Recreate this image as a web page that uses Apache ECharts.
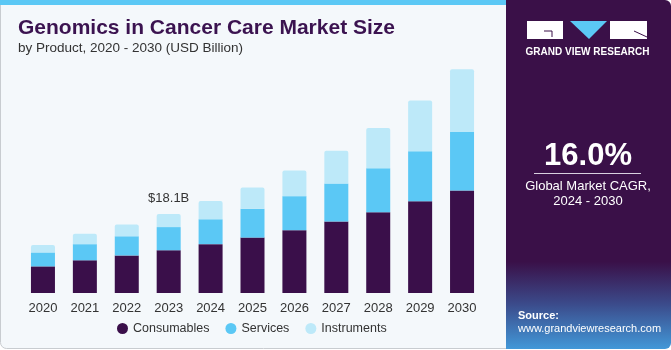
<!DOCTYPE html>
<html>
<head>
<meta charset="utf-8">
<script src="https://cdn.jsdelivr.net/npm/echarts@6/dist/echarts.min.js"></script>
<style>
  html, body { margin: 0; padding: 0; background: #ffffff; }
  #main { width: 671px; height: 350px; }
</style>
</head>
<body>
<div id="main"></div>
<script>
var years = ['2020', '2021', '2022', '2023', '2024', '2025', '2026', '2027', '2028', '2029', '2030'];
var consumables = [6.1, 7.5, 8.6, 9.8, 11.2, 12.7, 14.4, 16.4, 18.5, 21.0, 23.5];
var services = [3.2, 3.7, 4.4, 5.3, 5.7, 6.6, 7.8, 8.7, 10.1, 11.5, 13.4];
var instruments = [1.7, 2.4, 2.7, 3.0, 4.2, 4.9, 5.9, 7.5, 9.2, 11.6, 14.4];
var seriesNames = ['Consumables', 'Services', 'Instruments'];
var highlightIndex = 3;
var highlightText = '$18.1B';

var myChart = echarts.init(document.getElementById('main'));

var font = '"Liberation Sans", Arial, sans-serif';

var instrumentData = instruments.map(function (v, i) {
    if (i === highlightIndex) {
        return {
            value: v,
            label: {
                show: true, position: 'top', distance: 9,
                formatter: highlightText, fontSize: 13, color: '#333333', fontFamily: font
            }
        };
    }
    return v;
});

var option = {
    backgroundColor: '#ffffff',
    animation: false,
    textStyle: { fontFamily: font },
    grid: { left: 22, right: 188, top: 53, bottom: 57 },
    legend: {
        data: seriesNames,
        left: 112,
        top: 317,
        icon: 'circle',
        itemWidth: 11,
        itemHeight: 11,
        itemGap: 16,
        textStyle: { fontSize: 12.5, color: '#333333', fontFamily: font }
    },
    xAxis: {
        type: 'category',
        data: years,
        axisLine: { show: false },
        axisTick: { show: false },
        axisLabel: { fontSize: 13, color: '#333333', margin: 9, fontFamily: font }
    },
    yAxis: {
        type: 'value',
        min: 0,
        max: 55,
        show: false,
        splitLine: { show: false }
    },
    graphic: [
        // left panel
        { type: 'rect', z: -10, shape: { x: 0.5, y: 0.5, width: 520, height: 348, r: [0, 0, 0, 6] },
          style: { fill: '#f4f8fb', stroke: '#c8ccd0', lineWidth: 1 } },
        { type: 'rect', z: -9, shape: { x: 0, y: 0, width: 506, height: 5 }, style: { fill: '#5bc8f5' } },
        // right panel
        { type: 'rect', z: -8, shape: { x: 506, y: 0, width: 165, height: 349, r: [0, 6, 6, 0] },
          style: { fill: new echarts.graphic.LinearGradient(0, 0, 0, 1, [
              { offset: 0, color: '#3a1048' },
              { offset: 0.75, color: '#3a1048' },
              { offset: 0.87, color: '#3b4a8a' },
              { offset: 1, color: '#4298d8' }
          ]) } },
        // title
        { type: 'text', left: 18, top: 18,
          style: { text: 'Genomics in Cancer Care Market Size', fill: '#3b1350',
                   font: 'bold 21px ' + font } },
        { type: 'text', left: 18, top: 41,
          style: { text: 'by Product, 2020 - 2030 (USD Billion)', fill: '#333333',
                   font: '13.5px ' + font } },
        // logo
        { type: 'rect', shape: { x: 527, y: 21, width: 36, height: 18 }, style: { fill: '#ffffff' } },
        { type: 'polyline', shape: { points: [[544, 31], [552, 31], [552, 37]] },
          style: { stroke: '#3a1048', lineWidth: 1, fill: null } },
        { type: 'polygon', shape: { points: [[570, 21], [607, 21], [589, 39]] }, style: { fill: '#5bc8f5' } },
        { type: 'rect', shape: { x: 610, y: 21, width: 37, height: 18 }, style: { fill: '#ffffff' } },
        { type: 'line', shape: { x1: 634, y1: 31, x2: 647, y2: 37 }, style: { stroke: '#3a1048', lineWidth: 1 } },
        { type: 'text', x: 587.5, y: 52,
          style: { text: 'GRAND VIEW RESEARCH', fill: '#ffffff', font: 'bold 10px ' + font,
                   align: 'center', verticalAlign: 'middle' } },
        // CAGR
        { type: 'text', x: 588, y: 156,
          style: { text: '16.0%', fill: '#ffffff', font: 'bold 31px ' + font,
                   align: 'center', verticalAlign: 'middle' } },
        { type: 'line', shape: { x1: 534, y1: 173.5, x2: 641, y2: 173.5 },
          style: { stroke: '#d8d0e0', lineWidth: 1 } },
        { type: 'text', x: 588, y: 186,
          style: { text: 'Global Market CAGR,', fill: '#ffffff', font: '13px ' + font,
                   align: 'center', verticalAlign: 'middle' } },
        { type: 'text', x: 588, y: 201,
          style: { text: '2024 - 2030', fill: '#ffffff', font: '13px ' + font,
                   align: 'center', verticalAlign: 'middle' } },
        // source
        { type: 'text', left: 518, top: 310,
          style: { text: 'Source:', fill: '#ffffff', font: 'bold 11px ' + font } },
        { type: 'text', left: 518, top: 323,
          style: { text: 'www.grandviewresearch.com', fill: '#ffffff', font: '11px ' + font } }
    ],
    series: [
        {
            name: seriesNames[0], type: 'bar', stack: 'total', barWidth: 24,
            itemStyle: { color: '#3a0f4a' },
            data: consumables
        },
        {
            name: seriesNames[1], type: 'bar', stack: 'total', barWidth: 24,
            itemStyle: { color: '#5bc8f5' },
            data: services
        },
        {
            name: seriesNames[2], type: 'bar', stack: 'total', barWidth: 24,
            itemStyle: { color: '#bde9f9', borderRadius: [2, 2, 0, 0] },
            data: instrumentData
        }
    ]
};

myChart.setOption(option);
</script>
</body>
</html>
